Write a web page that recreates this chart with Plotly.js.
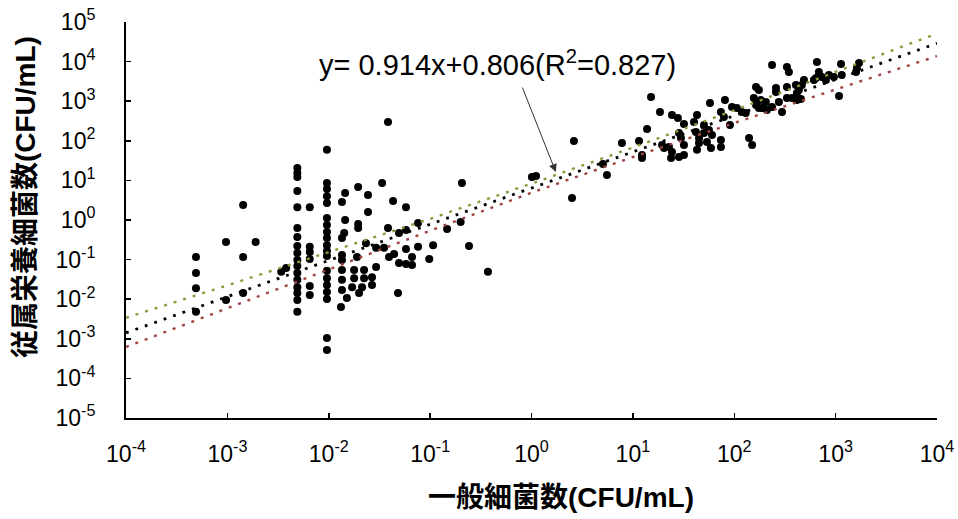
<!DOCTYPE html>
<html><head><meta charset="utf-8">
<script src="https://cdn.plot.ly/plotly-3.0.1.min.js"></script>
<style>html,body{margin:0;padding:0;background:#fff}</style>
</head><body><div id="chart" style="width:958px;height:519px"></div>
<script>
// 一般細菌数 (x) and 従属栄養細菌数 (y), CFU/mL
const generalBacteria = [
  0.00049,0.00049,0.00049,0.00049,0.00097,0.00097,0.00143,0.00143,0.00143,0.0019,0.0034,0.0038,
  0.0049,0.0049,0.0049,0.0049,0.0049,0.0049,0.0049,0.0049,0.0049,0.0049,0.0049,0.0049,0.0049,0.0049,0.0049,0.0049,0.0049,
  0.0065,0.0065,0.0065,0.0065,0.0065,0.0065,
  0.0096,0.0096,0.0096,0.0096,0.0096,0.0096,0.0096,0.0096,0.0096,0.0096,0.0096,0.0096,0.0096,0.0096,0.0096,0.0096,0.0096,0.0096,0.0096,
  0.0145,0.0135,0.0195,0.0244,0.0336,0.0431,0.0578,0.0244,0.0145,0.0195,
  0.0195,0.0142,0.0135,0.0384,0.0493,0.0578,0.076,0.147,0.0233,0.0293,
  0.0351,0.0578,0.076,0.107,0.019,0.0135,0.0135,0.0393,0.0441,0.0663,
  0.098,0.0493,0.0578,0.0663,0.0135,0.0135,0.0135,0.0178,0.0223,0.0293,
  0.0178,0.0223,0.0267,0.017,0.0213,0.0267,0.0199,0.0151,0.0132,0.0482,
  0.0384,0.206,0.20,0.242,0.372,
  1.01,1.11,2.62,2.51,5.07,5.55,7.8,11.5,12.3,12.3,13.8,15.1,18.5,
  24.3,27.8,31.9,42.9,40.1,57.6,81,73.9,79.1,95,106,119,130,90.7,
  164,156,164,175,140,150,50.3,56.3,60.3,50.3,44.9,44.9,53.8,73.9,
  42.9,58.9,73.9,41.9,28.5,29.8,31.9,22.7,24.3,23.8,28.5,31.9,20.3,19.4,
  236,331,346,654,1130,1700,1620,1590,684,733,640,962,1150,611,802,859,487,465,406,
  434,415,331,258,258,331,371,415,455,175,183,188,210,236,296,1080,276,205
];
const heterotrophicBacteria = [
  0.116,0.046,0.019,0.0048,0.28,0.0095,2.4,0.116,0.0144,0.28,0.049,0.061,
  20.6,15.4,12.2,5.4,2.1,0.63,0.37,0.22,0.147,0.098,0.069,0.046,0.031,0.020,0.0144,0.0095,0.0048,
  2.1,0.21,0.156,0.104,0.0216,0.0128,
  59,8.6,6.1,4.0,2.7,1.12,0.75,0.50,0.35,0.23,0.165,0.123,0.052,0.034,0.023,0.0152,0.0101,0.00105,0.00052,
  4.8,2.85,6.8,4.3,8.6,3.0,2.1,1.6,1.0,0.79,
  0.63,0.47,0.35,0.63,0.47,0.56,0.84,0.59,0.26,0.20,
  0.20,0.185,0.21,0.23,0.116,0.131,0.098,0.116,0.138,0.116,
  0.104,0.082,0.077,0.073,0.055,0.031,0.017,0.055,0.055,0.065,
  0.034,0.034,0.036,0.020,0.020,0.023,0.0144,0.0107,0.0064,0.0144,
  299,8.6,0.89,0.22,0.049,
  12.2,12.9,99,3.6,26,13.7,88,99,44,37,199,1280,534,
  449,377,266,449,299,900,1070,534,399,714,673,534,504,251,
  2290,1200,800,673,118,78,251,187,140,157,118,88,93,105,
  59,66,70,167,157,118,78,70,52,37,39,44,66,78,
  8200,7300,5460,9770,8700,9230,6890,5460,5460,4080,3850,4080,4590,3430,3430,4590,3430,2570,2570,
  1920,1610,2290,2150,1710,1200,1200,1070,1140,1920,1070,673,600,714,534,1350,955,955
];

// regression y = 0.914x + 0.806 (log10 space) and band lines
const fitSlope = 0.914;
const fitIntercept = 0.806;
const fitX = [1e-4, 1e4];
const bandX = [1e-4, 1e-3, 1e-2, 1e-1, 1, 1e1, 1e2, 1e3, 1e4];
const upperBand = [0.0034, 0.0224, 0.155, 1.07, 8.3, 67.6, 589, 5500, 51300];
const lowerBand = [0.00062, 0.0059, 0.0575, 0.537, 4.9, 38.9, 282, 1950, 13800];

const xTickVals = [1e-4, 1e-3, 1e-2, 1e-1, 1, 1e1, 1e2, 1e3, 1e4];
const xTickText = ['10<sup>-4</sup>','10<sup>-3</sup>','10<sup>-2</sup>','10<sup>-1</sup>','10<sup>0</sup>','10<sup>1</sup>','10<sup>2</sup>','10<sup>3</sup>','10<sup>4</sup>'];
const yTickVals = [1e-5, 1e-4, 1e-3, 1e-2, 1e-1, 1, 1e1, 1e2, 1e3, 1e4, 1e5];
const yTickText = ['10<sup>-5</sup>','10<sup>-4</sup>','10<sup>-3</sup>','10<sup>-2</sup>','10<sup>-1</sup>','10<sup>0</sup>','10<sup>1</sup>','10<sup>2</sup>','10<sup>3</sup>','10<sup>4</sup>','10<sup>5</sup>'];

const fitY = fitX.map(x => Math.pow(10, fitSlope * Math.log10(x) + fitIntercept));

const tickFont = {family: 'Liberation Sans, Arial, sans-serif', size: 23, color: '#000'};
const titleFont = {family: 'Liberation Sans, "Noto Sans CJK JP", sans-serif', size: 28, color: '#000', weight: 'bold'};

const traces = [
  {x: generalBacteria, y: heterotrophicBacteria, mode: 'markers', type: 'scatter',
   marker: {color: '#000', size: 8}, hoverinfo: 'x+y'},
  {x: bandX, y: upperBand, mode: 'lines', type: 'scatter',
   line: {color: '#8a9a3c', width: 2.4, dash: '3px,7px'}},
  {x: bandX, y: lowerBand, mode: 'lines', type: 'scatter',
   line: {color: '#a04444', width: 2.4, dash: '3px,7px'}},
  {x: fitX, y: fitY, mode: 'lines', type: 'scatter',
   line: {color: '#000', width: 2.8, dash: '2.8px,7.2px'}}
];

const layout = {
  width: 958, height: 519,
  margin: {l: 126, r: 21, t: 22, b: 101},
  paper_bgcolor: '#fff', plot_bgcolor: '#fff',
  showlegend: false,
  xaxis: {type: 'log', range: [-4, 4], showgrid: false, zeroline: false,
    showline: true, linecolor: '#000', linewidth: 2,
    ticks: 'inside', ticklen: 5, tickwidth: 1.5, tickcolor: '#000',
    tickmode: 'array', tickvals: xTickVals, ticktext: xTickText,
    tickfont: tickFont, ticklabelstandoff: 14},
  yaxis: {type: 'log', range: [-5, 5], showgrid: false, zeroline: false,
    showline: true, linecolor: '#000', linewidth: 2,
    ticks: 'inside', ticklen: 5, tickwidth: 1.5, tickcolor: '#000',
    tickmode: 'array', tickvals: yTickVals, ticktext: yTickText,
    tickfont: tickFont, ticklabelstandoff: 24},
  annotations: [
    {xref: 'paper', yref: 'paper', x: 0.4575, y: 0.896, xanchor: 'center', yanchor: 'middle',
     text: 'y= 0.914x+0.806(R<sup>2</sup>=0.827)', showarrow: false,
     font: {family: 'Liberation Sans, Arial, sans-serif', size: 29, color: '#000'}},
    {xref: 'paper', yref: 'paper', x: 0.530, y: 0.621, text: '', showarrow: true,
     ax: -34, ay: -86, arrowhead: 2, arrowsize: 1.6, arrowwidth: 1, arrowcolor: '#333'},
    {xref: 'paper', yref: 'paper', x: -0.1245, y: 0.558, xanchor: 'center', yanchor: 'middle',
     text: '従属栄養細菌数(CFU/mL)', textangle: -90, showarrow: false, font: titleFont},
    {xref: 'paper', yref: 'paper', x: 0.536, y: -0.1995, xanchor: 'center', yanchor: 'middle',
     text: '一般細菌数(CFU/mL)', showarrow: false, font: titleFont}
  ]
};

Plotly.newPlot('chart', traces, layout, {displayModeBar: false, staticPlot: true});
</script>
</body></html>
